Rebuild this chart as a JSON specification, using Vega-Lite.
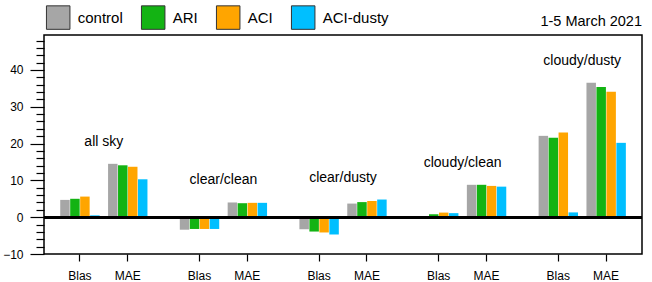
{
  "$schema": "https://vega.github.io/schema/vega-lite/v6.json",
  "width": 598,
  "height": 219,
  "autosize": {"type": "none"},
  "padding": {"left": 44, "top": 35, "right": 10, "bottom": 28},
  "background": "white",
  "title": {"text": "1-5 March 2021", "anchor": "end", "frame": "group", "orient": "top", "offset": -35.6, "baseline": "alphabetic", "fontSize": 14.5, "font": "Liberation Sans", "fontWeight": "normal", "color": "black"},
  "config": {"view": {"stroke": "black", "strokeWidth": 1.5}, "font": "Liberation Sans"},
  "resolve": {"axis": {"y": "independent"}},
  "data": {"values": [
    {"cat": "all sky|Blas", "condition": "all sky", "series": "control", "value": 4.7},
    {"cat": "all sky|Blas", "condition": "all sky", "series": "ARI", "value": 5.0},
    {"cat": "all sky|Blas", "condition": "all sky", "series": "ACI", "value": 5.6},
    {"cat": "all sky|Blas", "condition": "all sky", "series": "ACI-dusty", "value": 0.5},
    {"cat": "all sky|MAE", "condition": "all sky", "series": "control", "value": 14.5},
    {"cat": "all sky|MAE", "condition": "all sky", "series": "ARI", "value": 14.1},
    {"cat": "all sky|MAE", "condition": "all sky", "series": "ACI", "value": 13.7},
    {"cat": "all sky|MAE", "condition": "all sky", "series": "ACI-dusty", "value": 10.3},
    {"cat": "clear/clean|Blas", "condition": "clear/clean", "series": "control", "value": -3.4},
    {"cat": "clear/clean|Blas", "condition": "clear/clean", "series": "ARI", "value": -3.2},
    {"cat": "clear/clean|Blas", "condition": "clear/clean", "series": "ACI", "value": -3.2},
    {"cat": "clear/clean|Blas", "condition": "clear/clean", "series": "ACI-dusty", "value": -3.2},
    {"cat": "clear/clean|MAE", "condition": "clear/clean", "series": "control", "value": 4.0},
    {"cat": "clear/clean|MAE", "condition": "clear/clean", "series": "ARI", "value": 3.8},
    {"cat": "clear/clean|MAE", "condition": "clear/clean", "series": "ACI", "value": 3.9},
    {"cat": "clear/clean|MAE", "condition": "clear/clean", "series": "ACI-dusty", "value": 3.9},
    {"cat": "clear/dusty|Blas", "condition": "clear/dusty", "series": "control", "value": -3.3},
    {"cat": "clear/dusty|Blas", "condition": "clear/dusty", "series": "ARI", "value": -3.9},
    {"cat": "clear/dusty|Blas", "condition": "clear/dusty", "series": "ACI", "value": -4.15},
    {"cat": "clear/dusty|Blas", "condition": "clear/dusty", "series": "ACI-dusty", "value": -4.7},
    {"cat": "clear/dusty|MAE", "condition": "clear/dusty", "series": "control", "value": 3.7},
    {"cat": "clear/dusty|MAE", "condition": "clear/dusty", "series": "ARI", "value": 4.1},
    {"cat": "clear/dusty|MAE", "condition": "clear/dusty", "series": "ACI", "value": 4.4},
    {"cat": "clear/dusty|MAE", "condition": "clear/dusty", "series": "ACI-dusty", "value": 4.8},
    {"cat": "cloudy/clean|Blas", "condition": "cloudy/clean", "series": "control", "value": 0.05},
    {"cat": "cloudy/clean|Blas", "condition": "cloudy/clean", "series": "ARI", "value": 0.8},
    {"cat": "cloudy/clean|Blas", "condition": "cloudy/clean", "series": "ACI", "value": 1.25},
    {"cat": "cloudy/clean|Blas", "condition": "cloudy/clean", "series": "ACI-dusty", "value": 1.1},
    {"cat": "cloudy/clean|MAE", "condition": "cloudy/clean", "series": "control", "value": 8.8},
    {"cat": "cloudy/clean|MAE", "condition": "cloudy/clean", "series": "ARI", "value": 8.8},
    {"cat": "cloudy/clean|MAE", "condition": "cloudy/clean", "series": "ACI", "value": 8.5},
    {"cat": "cloudy/clean|MAE", "condition": "cloudy/clean", "series": "ACI-dusty", "value": 8.3},
    {"cat": "cloudy/dusty|Blas", "condition": "cloudy/dusty", "series": "control", "value": 22.1},
    {"cat": "cloudy/dusty|Blas", "condition": "cloudy/dusty", "series": "ARI", "value": 21.6},
    {"cat": "cloudy/dusty|Blas", "condition": "cloudy/dusty", "series": "ACI", "value": 23.0},
    {"cat": "cloudy/dusty|Blas", "condition": "cloudy/dusty", "series": "ACI-dusty", "value": 1.3},
    {"cat": "cloudy/dusty|MAE", "condition": "cloudy/dusty", "series": "control", "value": 36.5},
    {"cat": "cloudy/dusty|MAE", "condition": "cloudy/dusty", "series": "ARI", "value": 35.4},
    {"cat": "cloudy/dusty|MAE", "condition": "cloudy/dusty", "series": "ACI", "value": 34.1},
    {"cat": "cloudy/dusty|MAE", "condition": "cloudy/dusty", "series": "ACI-dusty", "value": 20.2}
  ]},
  "layer": [
    {
      "mark": {"type": "bar"},
      "encoding": {
        "x": {
          "field": "cat", "type": "nominal", "title": null,
          "scale": {
            "domain": ["g0", "all sky|Blas", "all sky", "all sky|MAE", "g1", "g2", "clear/clean|Blas", "clear/clean", "clear/clean|MAE", "g3", "g4", "clear/dusty|Blas", "clear/dusty", "clear/dusty|MAE", "g5", "g6", "cloudy/clean|Blas", "cloudy/clean", "cloudy/clean|MAE", "g7", "g8", "cloudy/dusty|Blas", "cloudy/dusty", "cloudy/dusty|MAE", "g9"],
            "paddingInner": 0, "paddingOuter": 0
          },
          "axis": {
            "values": ["all sky|Blas", "all sky|MAE", "clear/clean|Blas", "clear/clean|MAE", "clear/dusty|Blas", "clear/dusty|MAE", "cloudy/clean|Blas", "cloudy/clean|MAE", "cloudy/dusty|Blas", "cloudy/dusty|MAE"],
            "labelExpr": "substring(datum.label, indexof(datum.label, '|') + 1)",
            "tickSize": 7, "tickColor": "black", "tickWidth": 1.2, "domain": false, "grid": false,
            "labelFontSize": 12, "labelPadding": 9, "labelAngle": 0, "labelColor": "black", "labelFont": "Liberation Sans"
          }
        },
        "xOffset": {
          "field": "series", "type": "nominal",
          "sort": ["control", "ARI", "ACI", "ACI-dusty"],
          "scale": {"domain": ["control", "ARI", "ACI", "ACI-dusty"], "range": [-7.7, 31.7], "paddingInner": 0.05, "paddingOuter": 0}
        },
        "y": {
          "field": "value", "type": "quantitative", "title": null,
          "scale": {"domain": [-10, 49.5], "nice": false, "zero": false},
          "axis": {
            "orient": "left",
            "values": [-10, 0, 10, 20, 30, 40],
            "tickSize": 14,
            "tickColor": "black", "tickWidth": 1.2, "domain": false, "grid": false,
            "labelFontSize": 12, "labelPadding": 7, "labelColor": "black", "labelFont": "Liberation Sans"
          }
        },
        "color": {
          "field": "series", "type": "nominal",
          "scale": {"domain": ["control", "ARI", "ACI", "ACI-dusty"], "range": ["#a6a6a6", "#13b313", "#ffa500", "#00bfff"]},
          "legend": {
            "orient": "none", "legendX": 1.7, "legendY": -30.3, "direction": "horizontal", "title": null,
            "symbolType": "square", "symbolSize": 552, "symbolStrokeColor": "#333333", "symbolStrokeWidth": 1,
            "symbolFillOpacity": 1, "symbolOpacity": 1,
            "labelFontSize": 15, "labelOffset": 7, "columnPadding": 15, "padding": 0,
            "labelFont": "Liberation Sans", "labelColor": "black"
          }
        }
      }
    },
    {
      "mark": {"type": "rule", "color": "black", "strokeWidth": 2},
      "encoding": {"y": {"datum": 0, "axis": null}}
    },
    {
      "transform": [{"aggregate": [{"op": "max", "field": "value", "as": "top"}], "groupby": ["condition"]}],
      "mark": {"type": "text", "dy": -22, "fontSize": 14, "baseline": "middle", "align": "center", "font": "Liberation Sans", "color": "black"},
      "encoding": {
        "x": {"field": "condition", "type": "nominal", "title": null},
        "y": {
          "field": "top", "type": "quantitative", "title": null,
          "axis": {
            "orient": "left",
            "values": [-8, -6, -4, -2, 2, 4, 6, 8, 12, 14, 16, 18, 22, 24, 26, 28, 32, 34, 36, 38, 42, 44, 46, 48],
            "labels": false, "tickSize": 8, "tickColor": "black", "tickWidth": 1.2, "domain": false, "grid": false
          }
        },
        "text": {"field": "condition"}
      }
    }
  ]
}
